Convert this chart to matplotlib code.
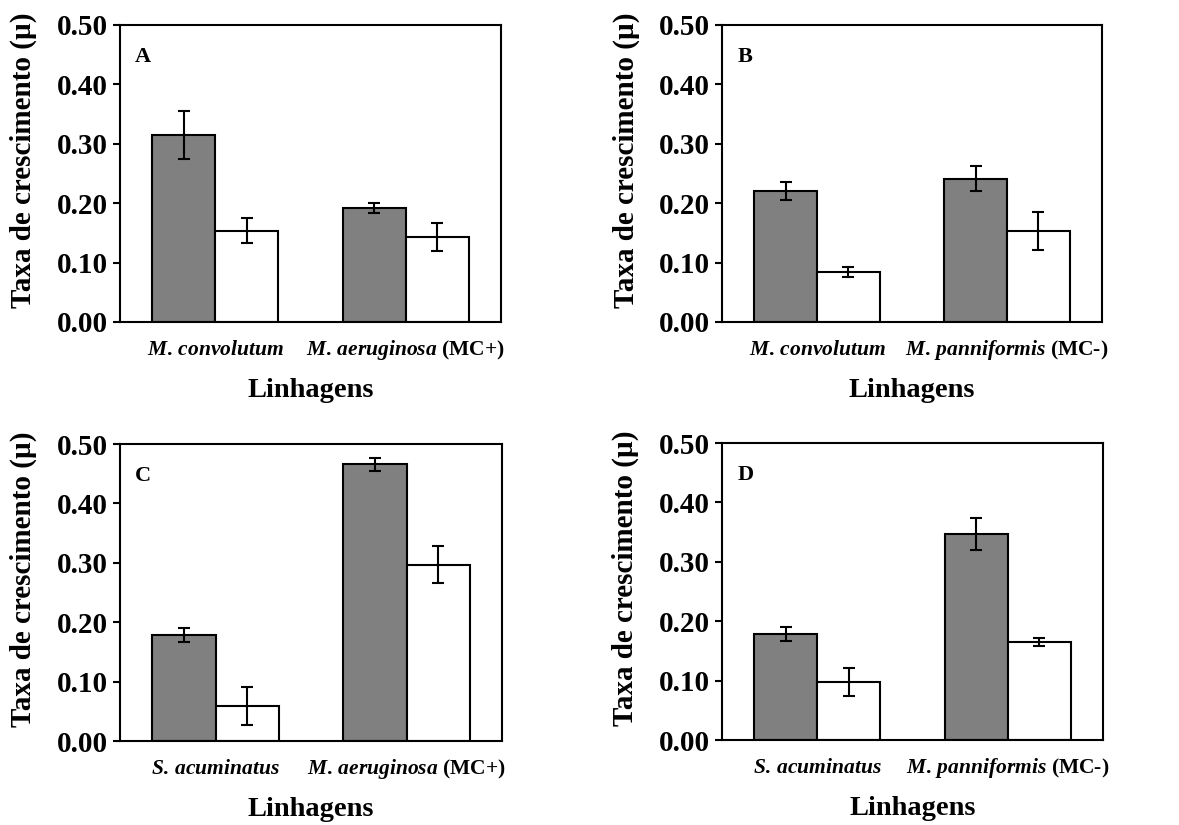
import matplotlib.pyplot as plt
import numpy as np

plt.rcParams['font.family'] = 'Liberation Serif'
plt.rcParams['font.weight'] = 'bold'
plt.rcParams['mathtext.fontset'] = 'custom'
plt.rcParams['mathtext.it'] = 'Liberation Serif:italic:bold'
plt.rcParams['mathtext.rm'] = 'Liberation Serif:bold'

# data per panel: strain names, suffix, gray bars, white bars, errors
panel_letters = ["A", "B", "C", "D"]
strains_A = ["M. convolutum", "M. aeruginosa"]
strains_B = ["M. convolutum", "M. panniformis"]
strains_C = ["S. acuminatus", "M. aeruginosa"]
strains_D = ["S. acuminatus", "M. panniformis"]
suffix_A = ["", "(MC+)"]
suffix_B = ["", "(MC-)"]
suffix_C = ["", "(MC+)"]
suffix_D = ["", "(MC-)"]

gray_A = [0.315, 0.192]
gray_err_A = [0.040, 0.009]
white_A = [0.154, 0.143]
white_err_A = [0.021, 0.023]

gray_B = [0.221, 0.241]
gray_err_B = [0.015, 0.021]
white_B = [0.084, 0.154]
white_err_B = [0.008, 0.032]

gray_C = [0.178, 0.466]
gray_err_C = [0.012, 0.011]
white_C = [0.059, 0.297]
white_err_C = [0.032, 0.031]

gray_D = [0.179, 0.347]
gray_err_D = [0.012, 0.027]
white_D = [0.098, 0.165]
white_err_D = [0.024, 0.007]

yticks = [0.0, 0.1, 0.2, 0.3, 0.4, 0.5]

panels = [
    (strains_A, suffix_A, gray_A, gray_err_A, white_A, white_err_A),
    (strains_B, suffix_B, gray_B, gray_err_B, white_B, white_err_B),
    (strains_C, suffix_C, gray_C, gray_err_C, white_C, white_err_C),
    (strains_D, suffix_D, gray_D, gray_err_D, white_D, white_err_D),
]

# axes rectangles in figure fraction
rects = [
    [0.1018, 0.6097, 0.3232, 0.360],
    [0.6124, 0.6097, 0.3223, 0.360],
    [0.1018, 0.1018, 0.3240, 0.360],
    [0.6124, 0.1030, 0.3232, 0.360],
]

fig = plt.figure(figsize=(11.79, 8.25), dpi=100)

w = 0.33
x = np.array([0.5, 1.5])
for i in range(4):
    strains, suffix, g, ge, wh, we = panels[i]
    ax = fig.add_axes(rects[i])
    ekw = dict(elinewidth=1.5, capthick=1.5, ecolor="black")
    ax.bar(x - w / 2, g, w, yerr=ge, color="#808080", edgecolor="black",
           linewidth=1.5, capsize=4, error_kw=ekw)
    ax.bar(x + w / 2, wh, w, yerr=we, color="white", edgecolor="black",
           linewidth=1.5, capsize=4, error_kw=ekw)
    ax.set_xlim(0, 2)
    ax.set_ylim(0, 0.5)
    ax.set_yticks(yticks)
    ax.set_yticklabels(["%.2f" % t for t in yticks], fontsize=21, fontweight="bold")
    labels = []
    for s, sf in zip(strains, suffix):
        lab = r"$\mathit{" + s.replace(" ", r"\,") + "}$"
        if sf:
            lab += " " + sf
        labels.append(lab)
    ax.set_xticks(x)
    ax.set_xticklabels(labels, fontsize=15.5, fontweight="bold")
    for t in ax.get_xticklabels():
        t.set_verticalalignment("baseline")
    ax.tick_params(axis="x", length=0, pad=24)
    ax.tick_params(axis="y", length=5, width=1.5, direction="out", pad=4)
    for sp in ax.spines.values():
        sp.set_linewidth(1.5)
    ax.set_xlabel("Linhagens", fontsize=20.5, fontweight="bold", labelpad=11)
    ax.set_ylabel("Taxa de crescimento (µ)", fontsize=21, fontweight="bold")
    ax.yaxis.set_label_coords(-0.217, 0.545)
    ax.text(0.04, 0.925, panel_letters[i], transform=ax.transAxes, fontsize=16,
            fontweight="bold", va="top", ha="left")

fig.savefig("out.png", dpi=100)
